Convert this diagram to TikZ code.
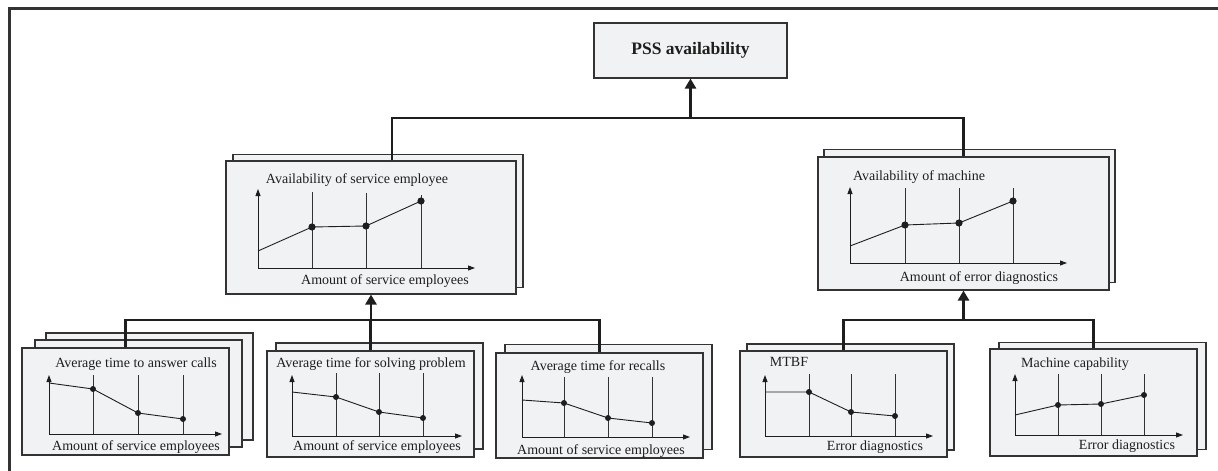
\documentclass[tikz,border=0pt]{standalone}
\usepackage{fontspec}
\setmainfont{Liberation Serif}
\usetikzlibrary{arrows.meta,calc}
\definecolor{cardfill}{HTML}{F1F2F4}
\definecolor{edgecol}{HTML}{333333}
\definecolor{inkcol}{HTML}{1E1E1E}
\begin{document}
\begin{tikzpicture}[x=1pt,y=-1pt,
  card/.style={draw=edgecol, fill=cardfill, line width=1.1pt, inner sep=0pt},
  smallcard/.style={card, minimum width=207pt, minimum height=106pt},
  bigcard/.style={card, minimum width=290pt, minimum height=133pt},
  conn/.style={draw=inkcol, line width=2.8pt},
  connarrow/.style={conn, -{Triangle[length=10pt,width=11pt]}},
  lbl/.style={font=\fontsize{14}{16}\selectfont, inner sep=0pt, text=inkcol},
  axis/.style={draw=inkcol, line width=0.9pt, {Triangle[length=7pt,width=5pt]}-{Triangle[length=7pt,width=5pt]}},
  gridline/.style={draw=edgecol, line width=0.8pt},
  curve/.style={draw=inkcol, line width=0.9pt},
  dotfill/.style={fill=inkcol}]
\useasboundingbox (0,0) rectangle (1218,471);
% outer frame
\draw[line width=3pt, draw=edgecol] (9,471) -- (9,8) -- (1218,8);

% top node
\node[card, minimum width=193pt, minimum height=55pt, font=\fontsize{17.5}{20}\selectfont\bfseries, text=inkcol] (pss) at (690.5,50.5) {PSS availability};

% second level cards
\node[bigcard] (aseb) at (378,221) {};
\node[bigcard] (ase) at (371,227.5) {};
\node[bigcard, minimum width=291pt] (amb) at (969.5,216) {};
\node[bigcard, minimum width=291pt] (am) at (963.5,223.5) {};

% bottom cards
\node[smallcard, minimum height=107pt] (b1b) at (149.5,386.5) {};
\node[smallcard, minimum height=107pt] (b1m) at (138.5,393.5) {};
\node[smallcard, minimum height=107pt] (b1) at (125.5,401.5) {};
\node[smallcard] (b2b) at (379.5,396) {};
\node[smallcard] (b2) at (370.5,404) {};
\node[smallcard, minimum height=105pt] (b3b) at (608.5,397) {};
\node[smallcard, minimum height=105pt] (b3) at (599.5,405.5) {};
\node[smallcard] (b4b) at (850.5,397) {};
\node[smallcard] (b4) at (843.5,404) {};
\node[smallcard, minimum height=107pt] (b5b) at (1102.5,396) {};
\node[smallcard, minimum height=107pt] (b5) at (1093.5,402.5) {};

% junction coordinates
\coordinate (jtop) at (392,118);
\coordinate (jl) at (0,320);
\coordinate (jr) at (0,320);

% connectors
\draw[conn] (ase.north -| jtop) |- (am.north |- jtop) -- (am.north);
\draw[connarrow] (pss.south |- jtop) -- (pss.south);
\draw[conn] (b1.north) |- (b3.north |- jl) -- (b3.north);
\draw[conn] (b2.north) -- (b2.north |- jl);
\draw[connarrow] (ase.south |- jl) -- (ase.south);
\draw[conn] (b4.north) |- (b5.north |- jr) -- (b5.north);
\draw[connarrow] (am.south |- jr) -- (am.south);

% ---- chart: availability of service employee
\node[lbl] (asetitle) at (357,180) {Availability of service employee};
\node[lbl] (asex) at (385,281) {Amount of service employees};
\draw[gridline] (312,192) -- (312,268) (366,193) -- (366,268) (421,195) -- (421,268);
\draw[axis] (258,189) -- (258,268) -- (475,268);
\draw[curve] (258,251) -- (312,227) -- (366,226) -- (421,201);
\fill[dotfill] (312,227) circle[radius=3.6pt] (366,226) circle[radius=3.6pt] (421,201) circle[radius=3.6pt];

% ---- chart: availability of machine
\node[lbl] (amtitle) at (919,177) {Availability of machine};
\node[lbl] (amx) at (979,278) {Amount of error diagnostics};
\draw[gridline] (905,188) -- (905,263) (959,188) -- (959,263) (1013,188) -- (1013,263);
\draw[axis] (850,187) -- (850,263) -- (1067,263);
\draw[curve] (850,246) -- (905,225) -- (959,223) -- (1013,201);
\fill[dotfill] (905,225) circle[radius=3.6pt] (959,223) circle[radius=3.6pt] (1013,201) circle[radius=3.6pt];

% ---- chart: average time to answer calls
\node[lbl] (b1title) at (136,364) {Average time to answer calls};
\node[lbl] (b1x) at (136,447) {Amount of service employees};
\draw[gridline] (93,375) -- (93,434) (138,375) -- (138,434) (183,375) -- (183,434);
\draw[axis] (49,375) -- (49,434) -- (222,434);
\draw[curve] (49,383) -- (93,389) -- (138,413) -- (183,419);
\fill[dotfill] (93,389) circle[radius=3pt] (138,413) circle[radius=3pt] (183,419) circle[radius=3pt];

% ---- chart: average time for solving problem
\node[lbl] (b2title) at (371,364) {Average time for solving problem};
\node[lbl] (b2x) at (377,447) {Amount of service employees};
\draw[gridline] (336,373) -- (336,436) (379,373) -- (379,436) (423,373) -- (423,436);
\draw[axis] (292,375) -- (292,436) -- (462,436);
\draw[curve] (292,392) -- (336,397) -- (379,412) -- (423,418);
\fill[dotfill] (336,397) circle[radius=3pt] (379,412) circle[radius=3pt] (423,418) circle[radius=3pt];

% ---- chart: average time for recalls
\node[lbl] (b3title) at (598,367) {Average time for recalls};
\node[lbl] (b3x) at (601,451) {Amount of service employees};
\draw[gridline] (564,377) -- (564,437) (608,377) -- (608,437) (652,377) -- (652,437);
\draw[axis] (522,375) -- (522,437) -- (690,437);
\draw[curve] (522,400) -- (564,403) -- (608,418) -- (652,423);
\fill[dotfill] (564,403) circle[radius=3pt] (608,418) circle[radius=3pt] (652,423) circle[radius=3pt];

% ---- chart: MTBF
\node[lbl] (b4title) at (789,362) {MTBF};
\node[lbl] (b4x) at (875,447) {Error diagnostics};
\draw[gridline] (809,374) -- (809,436) (851,374) -- (851,436) (895,374) -- (895,436);
\draw[axis] (765,375) -- (765,436) -- (933,436);
\draw[curve] (765,392) -- (809,392) -- (851,412) -- (895,416);
\fill[dotfill] (809,392) circle[radius=3pt] (851,412) circle[radius=3pt] (895,416) circle[radius=3pt];

% ---- chart: machine capability
\node[lbl] (b5title) at (1075,364) {Machine capability};
\node[lbl] (b5x) at (1127,446) {Error diagnostics};
\draw[gridline] (1058,374) -- (1058,435) (1101,374) -- (1101,435) (1144,374) -- (1144,435);
\draw[axis] (1015,374) -- (1015,435) -- (1183,435);
\draw[curve] (1015,415) -- (1058,405) -- (1101,404) -- (1144,395);
\fill[dotfill] (1058,405) circle[radius=3pt] (1101,404) circle[radius=3pt] (1144,395) circle[radius=3pt];
\end{tikzpicture}
\end{document}
